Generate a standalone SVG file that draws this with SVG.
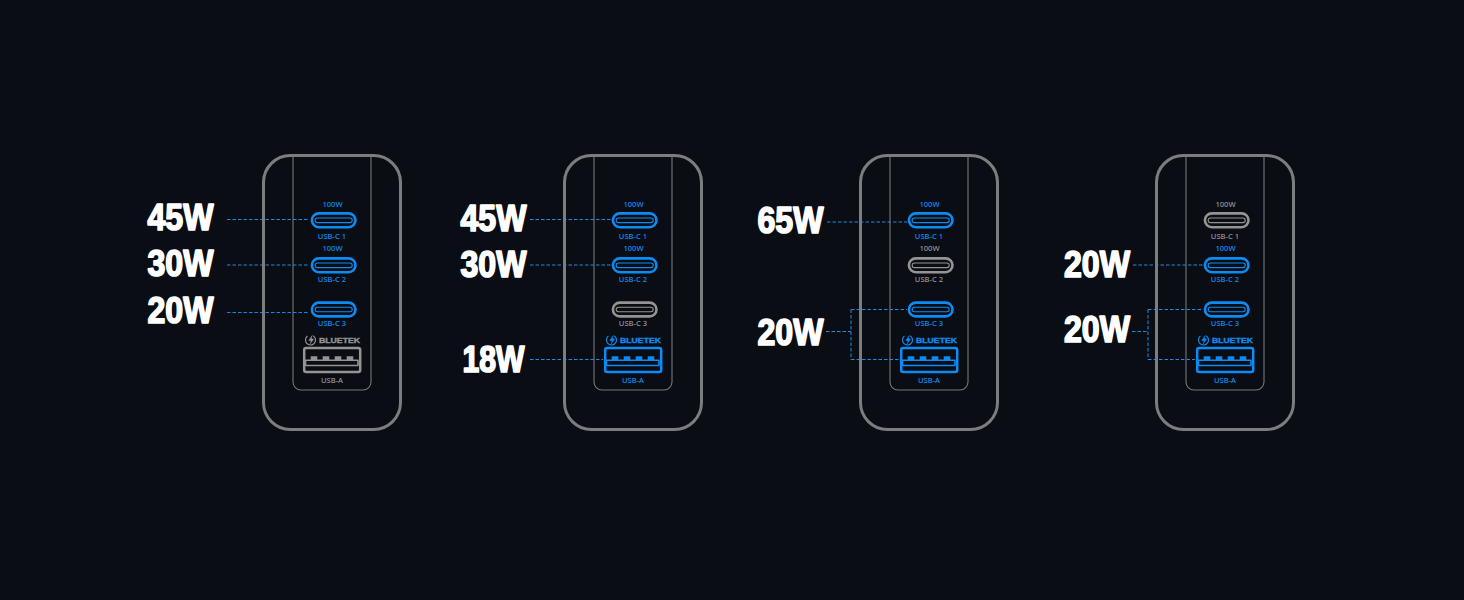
<svg xmlns="http://www.w3.org/2000/svg" xmlns:xlink="http://www.w3.org/1999/xlink" width="1464" height="600" viewBox="0 0 1464 600">
<style>
.bg{fill:#0a0d14}
.body{fill:none;stroke:#7c7d7f;stroke-width:3}
.frame{fill:none;stroke:#77787a;stroke-width:1.1}
.on{color:#0c8cf2}
.off{color:#949494}
.t{font-family:"Noto Sans","Liberation Sans",Arial,sans-serif;font-size:7.6px;font-weight:500;text-anchor:middle;fill:currentColor}
.brand{font-family:"Liberation Sans",Arial,sans-serif;font-size:7.5px;font-weight:700;fill:currentColor;stroke:currentColor;stroke-width:.35}
.watt{font-family:"Liberation Sans",Arial,sans-serif;font-size:36.5px;font-weight:700;fill:#fff;stroke:#fff;stroke-width:1.7;stroke-linejoin:round}
.line{fill:none;stroke:#1f8be6;stroke-width:1;stroke-dasharray:3.5 2}
.p{fill:none;stroke:currentColor}
</style>
<defs>
<g id="usbc">
<rect class="p" x="311.9" y="-6.6" width="43.6" height="13.8" rx="6.9" stroke-width="2.6"/>
<rect class="p" x="315.2" y="-2" width="37" height="4.6" rx="2.2" stroke-width="1.1"/>
</g>
<g id="usba">
<rect class="p" x="304.2" y="347.9" width="56" height="24.2" rx="2" stroke-width="2.5"/>
<rect class="p" x="305.5" y="360.3" width="52.5" height="5.2" rx=".5" stroke-width="1.6"/>
<path fill="currentColor" d="M310.7 360v-3.7h6.6v3.7zM322.7 360v-3.7h6.6v3.7zM334.7 360v-3.7h6.6v3.7zM346.7 360v-3.7h6.6v3.7z"/>
</g>
<g id="logo">
<circle class="p" cx="310.5" cy="340" r="5" stroke-width="1.2" stroke-dasharray="25 6.4" transform="rotate(-60 310.5 340)"/>
<path fill="currentColor" d="M312.6 334.5l-4.3 6.2h2.6l-1.5 4.6 4.7-6.5h-2.6z"/>
</g>
<g id="shell">
<rect class="body" x="263.5" y="155.5" width="137" height="274" rx="27"/>
<path class="frame" d="M293 155V382a8 8 0 0 0 8 8H363a8 8 0 0 0 8-8V155"/>
</g>
</defs>
<rect class="bg" width="1464" height="600"/>

<g id="connectors">
<path class="line" d="M227 219.5H309M227 265H309"/>
<path class="line" style="stroke:#1288ee;stroke-width:1.2" d="M227 312.5H309"/>
<path class="line" d="M530 219.5H611M530 265H611M530 359.5H603"/>
<path class="line" d="M827 222H907M826 331.5H851M851 309.5V359.5M851 309.5H907M851 359.5H899"/>
<path class="line" d="M1133 265H1203M1132 331.5H1148M1148 309.5V359.5M1148 309.5H1203M1148 359.5H1195"/>
</g>

<g id="charger-1">
<use href="#shell"/>
<g class="on"><use href="#usbc" y="220"/><use href="#usbc" y="265"/><use href="#usbc" y="309.2"/>
<text class="t" x="332.5" y="207">100W</text><text class="t" x="332" y="238.5">USB-C 1</text>
<text class="t" x="332.5" y="251">100W</text><text class="t" x="332" y="282.2">USB-C 2</text>
<text class="t" x="332" y="326.2">USB-C 3</text></g>
<g class="off"><use href="#logo"/><text class="brand" x="319" y="342.7" textLength="41" lengthAdjust="spacingAndGlyphs">BLUETEK</text><use href="#usba"/><text class="t" x="332" y="382.9">USB-A</text></g>
<text class="watt" x="147.5" y="230" textLength="66" lengthAdjust="spacingAndGlyphs">45W</text>
<text class="watt" x="147.5" y="275.5" textLength="66" lengthAdjust="spacingAndGlyphs">30W</text>
<text class="watt" x="147.5" y="323" textLength="66" lengthAdjust="spacingAndGlyphs">20W</text>
</g>

<g id="charger-2">
<g transform="translate(301 0)">
<use href="#shell"/>
<g class="on"><use href="#usbc" y="220"/><use href="#usbc" y="265"/>
<text class="t" x="332.5" y="207">100W</text><text class="t" x="332" y="238.5">USB-C 1</text>
<text class="t" x="332.5" y="251">100W</text><text class="t" x="332" y="282.2">USB-C 2</text></g>
<g class="off"><use href="#usbc" y="309.2"/><text class="t" x="332" y="326.2">USB-C 3</text></g>
<g class="on"><use href="#logo"/><text class="brand" x="319" y="342.7" textLength="41" lengthAdjust="spacingAndGlyphs">BLUETEK</text><use href="#usba"/><text class="t" x="332" y="382.9">USB-A</text></g>
</g>
<text class="watt" x="460.5" y="231" textLength="66" lengthAdjust="spacingAndGlyphs">45W</text>
<text class="watt" x="460.5" y="277" textLength="66" lengthAdjust="spacingAndGlyphs">30W</text>
<text class="watt" x="462.5" y="372" textLength="62" lengthAdjust="spacingAndGlyphs">18W</text>
</g>

<g id="charger-3">
<g transform="translate(597 0)">
<use href="#shell"/>
<g class="on"><use href="#usbc" y="220"/>
<text class="t" x="332.5" y="207">100W</text><text class="t" x="332" y="238.5">USB-C 1</text></g>
<g class="off"><use href="#usbc" y="265"/><text class="t" x="332.5" y="251">100W</text><text class="t" x="332" y="282.2">USB-C 2</text></g>
<g class="on"><use href="#usbc" y="309.2"/><text class="t" x="332" y="326.2">USB-C 3</text>
<use href="#logo"/><text class="brand" x="319" y="342.7" textLength="41" lengthAdjust="spacingAndGlyphs">BLUETEK</text><use href="#usba"/><text class="t" x="332" y="382.9">USB-A</text></g>
</g>
<text class="watt" x="757.5" y="233" textLength="66" lengthAdjust="spacingAndGlyphs">65W</text>
<text class="watt" x="757.5" y="344.5" textLength="66" lengthAdjust="spacingAndGlyphs">20W</text>
</g>

<g id="charger-4">
<g transform="translate(893 0)">
<use href="#shell"/>
<g class="off"><use href="#usbc" y="220"/>
<text class="t" x="332.5" y="207">100W</text><text class="t" x="332" y="238.5">USB-C 1</text></g>
<g class="on"><use href="#usbc" y="265"/><text class="t" x="332.5" y="251">100W</text><text class="t" x="332" y="282.2">USB-C 2</text>
<use href="#usbc" y="309.2"/><text class="t" x="332" y="326.2">USB-C 3</text>
<use href="#logo"/><text class="brand" x="319" y="342.7" textLength="41" lengthAdjust="spacingAndGlyphs">BLUETEK</text><use href="#usba"/><text class="t" x="332" y="382.9">USB-A</text></g>
</g>
<text class="watt" x="1064" y="277" textLength="66" lengthAdjust="spacingAndGlyphs">20W</text>
<text class="watt" x="1064" y="342" textLength="66" lengthAdjust="spacingAndGlyphs">20W</text>
</g>
</svg>
